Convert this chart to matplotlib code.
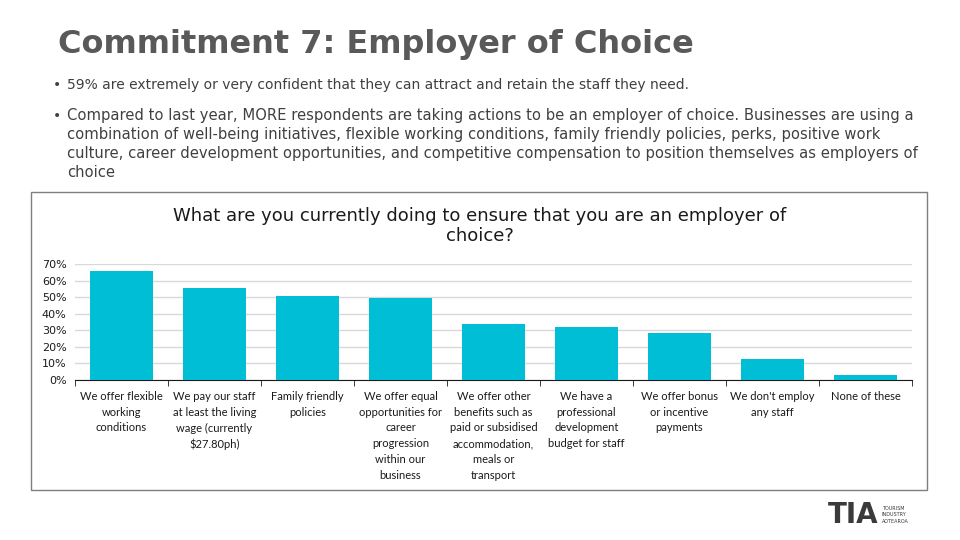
import matplotlib

matplotlib.use("Agg")
from matplotlib import pyplot as plt
from matplotlib.patches import Rectangle
from matplotlib.ticker import PercentFormatter, FixedLocator

slide_title = "Commitment 7: Employer of Choice"
bullets = [
    "59% are extremely or very confident that they can attract and retain the staff they need.",
    "Compared to last year, MORE respondents are taking actions to be an employer of choice. Businesses are using a\n"
    "combination of well-being initiatives, flexible working conditions, family friendly policies, perks, positive work\n"
    "culture, career development opportunities, and competitive compensation to position themselves as employers of\n"
    "choice",
]
chart_title = "What are you currently doing to ensure that you are an employer of\nchoice?"
categories = [
    "We offer flexible\nworking\nconditions",
    "We pay our staff\nat least the living\nwage (currently\n$27.80ph)",
    "Family friendly\npolicies",
    "We offer equal\nopportunities for\ncareer\nprogression\nwithin our\nbusiness",
    "We offer other\nbenefits such as\npaid or subsidised\naccommodation,\nmeals or\ntransport",
    "We have a\nprofessional\ndevelopment\nbudget for staff",
    "We offer bonus\nor incentive\npayments",
    "We don't employ\nany staff",
    "None of these",
]
values = [65.8, 55.5, 50.7, 49.5, 33.8, 32.0, 28.4, 12.7, 3.0]
y_ticks = [0, 10, 20, 30, 40, 50, 60, 70]

BAR = "#00BED6"
TEXT = "#404040"

fig = plt.figure(figsize=(9.6, 5.4), dpi=100)

# slide text
fig.text(58 / 960, 1 - 45 / 540, slide_title, fontsize=23, fontweight="bold",
         color="#595959", va="center", ha="left", family="DejaVu Sans")
fig.text(53 / 960, 1 - 85 / 540, "\u2022", fontsize=10, color=TEXT, va="center")
fig.text(67 / 960, 1 - 85 / 540, bullets[0], fontsize=10, color=TEXT, va="center")
fig.text(53 / 960, 1 - 116 / 540, "\u2022", fontsize=10, color=TEXT, va="center")
fig.text(67 / 960, 1 - 108 / 540, bullets[1], fontsize=10.6, color=TEXT, va="top",
         linespacing=1.33)

# chart frame
fig.add_artist(Rectangle((31 / 960, 1 - 490 / 540), 896 / 960, 298 / 540,
                         transform=fig.transFigure, fill=False,
                         edgecolor="#7f7f7f", linewidth=1.0))
fig.text(480 / 960, 1 - 226 / 540, chart_title, fontsize=13, color="#1a1a1a",
         ha="center", va="center", linespacing=1.2)

ax = fig.add_axes([75 / 960, 1 - 380 / 540, (912 - 75) / 960, 116 / 540])
x = list(range(len(categories)))
ax.bar(x, values, width=0.67, color=BAR, zorder=3)
ax.set_xlim(-0.5, len(categories) - 0.5)
ax.set_ylim(0, 70)
ax.set_yticks(y_ticks)
ax.yaxis.set_major_formatter(PercentFormatter(decimals=0))
ax.grid(axis="y", color="#d9d9d9", linewidth=1.0, zorder=0)
ax.tick_params(axis="y", length=0, labelsize=8, labelcolor="#1a1a1a", pad=6)
for side in ("left", "right", "top"):
    ax.spines[side].set_visible(False)
ax.spines["bottom"].set_color("#1a1a1a")
ax.set_xticks(x)
ax.set_xticklabels(categories, fontsize=8, family="Lato", color="#1a1a1a",
                   linespacing=1.52, va="top")
ax.tick_params(axis="x", which="major", length=0, pad=8)
ax.xaxis.set_minor_locator(FixedLocator([i - 0.5 for i in range(len(categories) + 1)]))
ax.tick_params(axis="x", which="minor", length=4, color="#1a1a1a", direction="out")

# logo
fig.text(828 / 960, 1 - 515 / 540, "TIA", fontsize=20, fontweight="bold",
         color="#3a3a3a", va="center", ha="left")
fig.text(882 / 960, 1 - 515 / 540, "TOURISM\nINDUSTRY\nAOTEAROA", fontsize=3.5,
         color="#3a3a3a", va="center", ha="left", linespacing=1.3)

fig.savefig("out.png", dpi=100)
